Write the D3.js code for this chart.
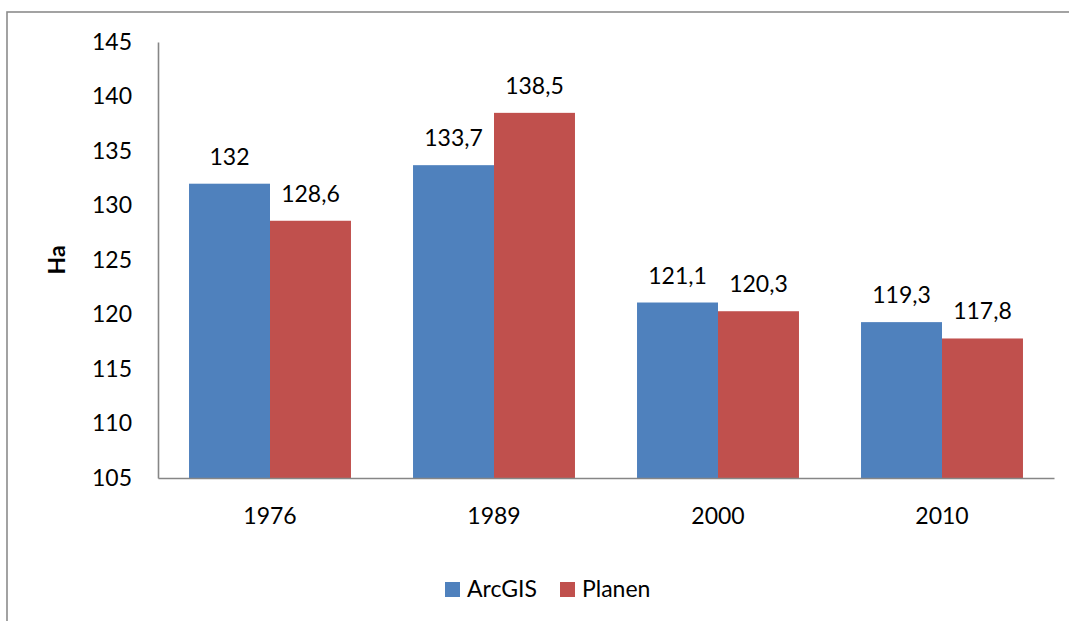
<!DOCTYPE html>
<html>
<head>
<meta charset="utf-8">
<script src="https://cdn.jsdelivr.net/npm/d3@7"></script>
<style>
  html, body { margin: 0; padding: 0; background: #fff; }
  svg { display: block; font-family: Lato, "Open Sans", sans-serif; }
</style>
</head>
<body>
<svg id="chart" width="1069" height="621"></svg>
<script>
// Area (ha) by year, two measurement methods
const years = ["1976", "1989", "2000", "2010"];
const seriesNames = ["ArcGIS", "Planen"];
const arcgisValues = [132, 133.7, 121.1, 119.3];
const planenValues = [128.6, 138.5, 120.3, 117.8];
const yTicks = [105, 110, 115, 120, 125, 130, 135, 140, 145];
const colors = ["#4F81BD", "#C0504D"];

const seriesValues = [arcgisValues, planenValues];
const rows = years.map((y, i) => ({
  year: y,
  values: seriesNames.map((s, j) => ({ series: s, idx: j, value: seriesValues[j][i] }))
}));

const svg = d3.select("#chart");
const margin = { left: 158, right: 1054, top: 42, bottom: 478 };
const fontSize = 23;

// outer frame
svg.append("rect")
  .attr("x", 7).attr("y", 12)
  .attr("width", 1100).attr("height", 700)
  .attr("fill", "none")
  .attr("stroke", "#8c8c8c")
  .attr("stroke-width", 1.6);

const x0 = d3.scaleBand().domain(years).range([margin.left, margin.right]).paddingInner(0.277).paddingOuter(0.1385);
const x1 = d3.scaleBand().domain(seriesNames).range([0, x0.bandwidth()]);
const y = d3.scaleLinear().domain([105, 145]).range([margin.bottom, margin.top]);

// bars
const groups = svg.append("g").selectAll("g")
  .data(rows).join("g")
  .attr("transform", d => `translate(${x0(d.year)},0)`);

groups.selectAll("rect")
  .data(d => d.values).join("rect")
  .attr("x", d => x1(d.series))
  .attr("y", d => y(d.value))
  .attr("width", x1.bandwidth())
  .attr("height", d => y(105) - y(d.value))
  .attr("fill", d => colors[d.idx]);

// value labels
const fmt = v => String(v).replace(".", ",");
groups.selectAll("text")
  .data(d => d.values).join("text")
  .attr("x", d => x1(d.series) + x1.bandwidth() / 2)
  .attr("y", d => y(d.value) - 19)
  .attr("text-anchor", "middle")
  .attr("font-size", fontSize)
  .attr("fill", "#000")
  .text(d => fmt(d.value));

// y axis
const yAxis = d3.axisLeft(y).tickValues(yTicks).tickSize(0).tickPadding(26).tickFormat(d3.format("d"));
const gy = svg.append("g").attr("transform", `translate(${margin.left},0)`).call(yAxis);
gy.select(".domain").attr("stroke", "#868686").attr("stroke-width", 1.6);
gy.selectAll("text").attr("font-size", fontSize).attr("font-family", "Lato, 'Open Sans', sans-serif").attr("fill", "#000");

// x axis
const xAxis = d3.axisBottom(x0).tickSize(0).tickPadding(30);
const gx = svg.append("g").attr("transform", `translate(0,${margin.bottom})`).call(xAxis);
gx.select(".domain").attr("stroke", "#868686").attr("stroke-width", 1.6);
gx.selectAll("text").attr("font-size", fontSize).attr("font-family", "Lato, 'Open Sans', sans-serif").attr("fill", "#000");

// y axis title
svg.append("text")
  .attr("transform", `translate(65,${(margin.top + margin.bottom) / 2}) rotate(-90)`)
  .attr("text-anchor", "middle")
  .attr("font-size", fontSize)
  .attr("font-weight", "bold")
  .text("Ha");

// legend
const legendItems = [
  { name: seriesNames[0], color: colors[0], x: 445 },
  { name: seriesNames[1], color: colors[1], x: 560 }
];
const lg = svg.append("g").selectAll("g").data(legendItems).join("g")
  .attr("transform", d => `translate(${d.x},582)`);
lg.append("rect").attr("width", 15).attr("height", 15).attr("fill", d => d.color);
lg.append("text").attr("x", 22).attr("y", 14.5)
  .attr("font-size", fontSize).attr("fill", "#000").text(d => d.name);
</script>
</body>
</html>
